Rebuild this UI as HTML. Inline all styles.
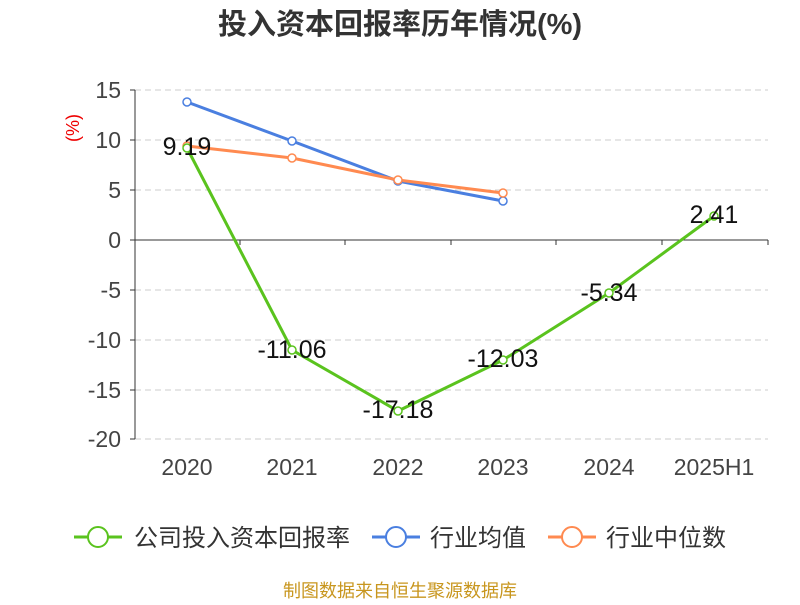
<!DOCTYPE html>
<html><head><meta charset="utf-8"><style>
body{margin:0;background:#fff;width:800px;height:600px;overflow:hidden}
</style></head><body>
<svg width="800" height="600" xmlns="http://www.w3.org/2000/svg" font-family="Liberation Sans, Noto Sans CJK SC, sans-serif">
<text x="400" y="34" text-anchor="middle" font-size="29" font-weight="bold" fill="#333">投入资本回报率历年情况(%)</text>
<text transform="translate(79,128) rotate(-90)" text-anchor="middle" font-size="18" fill="#e00">(%)</text>
<g stroke="#ccc" stroke-dasharray="6,4" stroke-width="1">
<line x1="135" x2="768" y1="90" y2="90"/><line x1="135" x2="768" y1="140" y2="140"/><line x1="135" x2="768" y1="190" y2="190"/>
<line x1="135" x2="768" y1="290" y2="290"/><line x1="135" x2="768" y1="340" y2="340"/><line x1="135" x2="768" y1="390" y2="390"/><line x1="135" x2="768" y1="439" y2="439"/>
</g>
<line x1="135" x2="135" y1="90" y2="439" stroke="#333"/>
<line x1="135" x2="768" y1="240" y2="240" stroke="#333"/>
<g stroke="#333"><line x1="130" x2="135" y1="90" y2="90"/><line x1="130" x2="135" y1="140" y2="140"/><line x1="130" x2="135" y1="190" y2="190"/><line x1="130" x2="135" y1="240" y2="240"/><line x1="130" x2="135" y1="290" y2="290"/><line x1="130" x2="135" y1="340" y2="340"/><line x1="130" x2="135" y1="390" y2="390"/><line x1="130" x2="135" y1="439" y2="439"/>
<line x1="240" x2="240" y1="240" y2="245"/><line x1="345" x2="345" y1="240" y2="245"/><line x1="451" x2="451" y1="240" y2="245"/><line x1="556" x2="556" y1="240" y2="245"/><line x1="662" x2="662" y1="240" y2="245"/><line x1="768" x2="768" y1="240" y2="245"/></g>
<g font-size="23" fill="#444" text-anchor="end">
<text x="121" y="98">15</text><text x="121" y="148">10</text><text x="121" y="198">5</text><text x="121" y="248">0</text><text x="121" y="298">-5</text><text x="121" y="348">-10</text><text x="121" y="398">-15</text><text x="121" y="447">-20</text></g>
<g font-size="23" fill="#444" text-anchor="middle">
<text x="187" y="475">2020</text><text x="292" y="475">2021</text><text x="398" y="475">2022</text><text x="503" y="475">2023</text><text x="609" y="475">2024</text><text x="714" y="475">2025H1</text></g>
<polyline points="187,102 292,141 398,181 503,201" fill="none" stroke="#4a7fe0" stroke-width="3"/>
<polyline points="187,146 292,158 398,180 503,193" fill="none" stroke="#ff8a50" stroke-width="3"/>
<polyline points="187,148 292,350 398,411 503,360 609,293 714,216" fill="none" stroke="#5ac31e" stroke-width="3"/>
<g fill="#fff" stroke="#4a7fe0" stroke-width="1.5"><circle cx="187" cy="102" r="4"/><circle cx="292" cy="141" r="4"/><circle cx="398" cy="181" r="4"/><circle cx="503" cy="201" r="4"/></g>
<g fill="#fff" stroke="#ff8a50" stroke-width="1.5"><circle cx="187" cy="146" r="4"/><circle cx="292" cy="158" r="4"/><circle cx="398" cy="180" r="4"/><circle cx="503" cy="193" r="4"/></g>
<g fill="#fff" stroke="#5ac31e" stroke-width="1.5"><circle cx="187" cy="148" r="4"/><circle cx="292" cy="350" r="4"/><circle cx="398" cy="411" r="4"/><circle cx="503" cy="360" r="4"/><circle cx="609" cy="293" r="4"/><circle cx="714" cy="216" r="4"/></g>
<g font-size="25" fill="#111" text-anchor="middle">
<text x="187" y="155">9.19</text><text x="292" y="358">-11.06</text><text x="398" y="418">-17.18</text><text x="503" y="367">-12.03</text><text x="609" y="301">-5.34</text><text x="714" y="223">2.41</text></g>
<g stroke-width="3" fill="#fff">
<line x1="74" x2="122" y1="537" y2="537" stroke="#5ac31e"/><circle cx="98" cy="537" r="10" stroke="#5ac31e" stroke-width="2"/>
<line x1="372" x2="420" y1="537" y2="537" stroke="#4a7fe0"/><circle cx="396" cy="537" r="10" stroke="#4a7fe0" stroke-width="2"/>
<line x1="548" x2="596" y1="537" y2="537" stroke="#ff8a50"/><circle cx="572" cy="537" r="10" stroke="#ff8a50" stroke-width="2"/></g>
<g font-size="24" fill="#333"><text x="134" y="546">公司投入资本回报率</text><text x="430" y="546">行业均值</text><text x="606" y="546">行业中位数</text></g>
<text x="400" y="597" text-anchor="middle" font-size="18" fill="#c8961e">制图数据来自恒生聚源数据库</text>
</svg>
</body></html>
